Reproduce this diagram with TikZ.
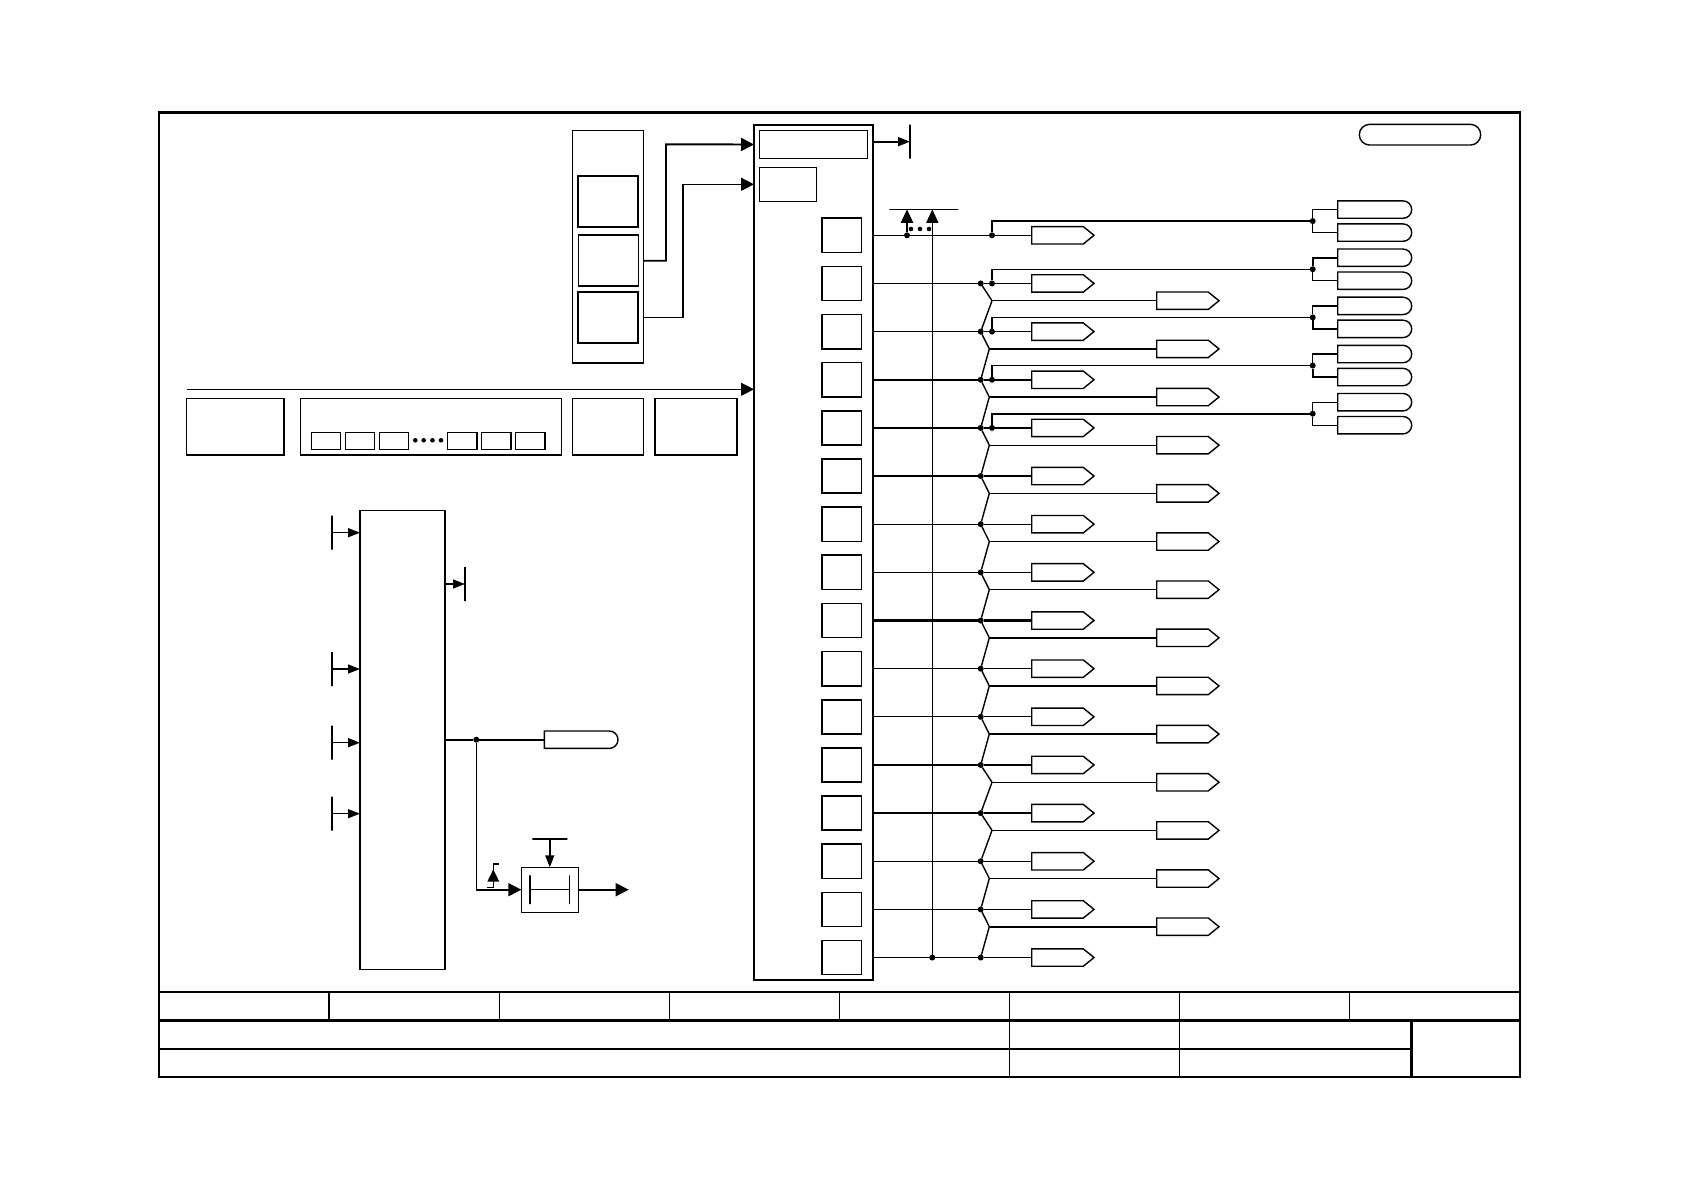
\documentclass[tikz,border=0pt]{standalone}
\usetikzlibrary{shapes.symbols, shapes.misc, arrows.meta, positioning, calc}

\begin{document}
\begin{tikzpicture}[
    x=1pt, y=-1pt,
    every node/.style={inner sep=0pt, outer sep=0pt},
    wire/.style={line width=1.3pt},
    heavy/.style={line width=2.2pt},
    frameline/.style={line width=2.4pt},
    box/.style={rectangle, draw, line width=1.3pt},
    strong/.style={rectangle, draw, line width=1.9pt},
    slot/.style={strong, line width=1.6pt, minimum width=39.6pt, minimum height=34.2pt},
    smallbox/.style={box, minimum width=29.4pt, minimum height=17pt},
    tag/.style={signal, draw, line width=1.4pt, signal pointer angle=78, minimum width=62.3pt, minimum height=17.4pt, anchor=west},
    pill/.style={rounded rectangle, rounded rectangle left arc=none, draw, line width=1.4pt, minimum width=74pt, minimum height=17.4pt, anchor=west},
    dot/.style={circle, fill=black, minimum size=6pt},
    tinydot/.style={circle, fill=black, minimum size=4.6pt},
    bar/.style={draw, line width=1.4pt, minimum width=0pt, minimum height=34pt},
    hbar/.style={draw, line width=1.4pt, minimum height=0pt},
    arrow/.style={-{Triangle[length=13pt, width=13pt]}},
    stub/.style={-{Triangle[length=12pt, width=9pt]}, line width=1.4pt}
]
\useasboundingbox (0,0) rectangle (1684,1190);

% ================= SHEET FRAME =================
\draw[frameline] (159,113) rectangle (1520,1077);
\draw[line width=3pt] (158,113) -- (1521,113);
\draw[frameline] (159,991.7) -- (1520,991.7);
\draw[line width=3pt] (159,1020) -- (1520,1020);
\draw[frameline] (159,1049) -- (1411.5,1049);
\foreach \cx in {329.1, 499.2, 669.3, 839.4, 1009.5, 1179.6, 1349.7} {
    \draw[wire] (\cx,991.7) -- (\cx,1020);
}
\draw[wire] (1009.5,1020) -- (1009.5,1077);
\draw[wire] (1179.6,1020) -- (1179.6,1077);
\draw[frameline] (1411.5,1020) -- (1411.5,1077);

\node[rounded rectangle, draw, line width=1.4pt, minimum width=121.4pt, minimum height=20.7pt] (sheetpill) at (1420,134.7) {};

% ================= UPPER LEFT GROUP =================
\node[box, minimum width=71.2pt, minimum height=232.7pt] (group) at (608.2,246.6) {};
\node[strong, minimum width=60.1pt, minimum height=51.3pt] (grpa) at (608.35,201.35) {};
\node[box, line width=1.6pt, minimum width=60.1pt, minimum height=51pt, below=8.3pt of grpa] (grpb) {};
\node[strong, minimum width=60.1pt, minimum height=51.3pt, below=5.4pt of grpb] (grpc) {};

% ================= INPUT ROW =================
\node[strong, line width=1.6pt, minimum width=97.2pt, minimum height=56.7pt] (rowa) at (235.1,426.65) {};
\node[box, minimum width=261pt, minimum height=56.7pt] (rowb) at (431,426.65) {};
\node[box, minimum width=71.2pt, minimum height=56.7pt] (rowc) at (608.2,426.65) {};
\node[strong, line width=1.6pt, minimum width=82.1pt, minimum height=56.7pt] (rowd) at (695.95,426.65) {};
\node[smallbox] (cella) at (326,440.8) {};
\node[smallbox, right=4.6pt of cella] (cellb) {};
\node[smallbox, right=4.6pt of cellb] (cellc) {};
\node[smallbox] (celld) at (462.2,440.8) {};
\node[smallbox, right=4.6pt of celld] (celle) {};
\node[smallbox, right=4.6pt of celle] (cellf) {};
\node[tinydot] (rowdota) at (415.3,440.3) {};
\node[tinydot] (rowdotb) at (423.7,440.3) {};
\node[tinydot] (rowdotc) at (432.5,440.3) {};
\node[tinydot] (rowdotd) at (441,440.3) {};

% ================= MAIN BLOCK =================
\node[strong, minimum width=119pt, minimum height=855pt] (main) at (813.5,552.5) {};
\node[box, minimum width=108.4pt, minimum height=27.6pt] (headera) at (813.5,144.5) {};
\node[box, minimum width=57.4pt, minimum height=34pt] (headerb) at (788,184.3) {};

\coordinate (busin) at (186.5,389.3);
\draw[wire, arrow] (busin) -- (busin -| main.west);
\draw[line width=1.9pt, arrow] (group.east |- grpb) -| (666,144.3) -- (main.west |- headera);
\draw[wire, line width=1.5pt, arrow] (group.east |- grpc) -| (682.8,184.3) -- (main.west |- headerb);

\node[bar] (limita) at (910,141.7) {};
\draw[stub, line width=1.7pt] (main.east |- limita) -- (limita);

% ================= OUTPUT ROWS =================
\node[slot] (slot0) at (841.6,235.3) {};
\foreach \i [remember=\i as \prev (initially 0)] in {1,...,15} {
    \node[slot, below=13.95pt of slot\prev] (slot\i) {};
}
\foreach \i in {0,...,15} {
    \node[tag] (taga\i) at (1031.7,0 |- slot\i) {};
}
\foreach \i in {1,...,15} {
    \node[dot] (tap\i) at (980.7,0 |- slot\i) {};
}
\draw[wire] (main.east |- slot0) -- (taga0);
\foreach \i in {1,2,5,6,7,9,10,11,12,13,14,15} {
    \draw[wire] (main.east |- slot\i) -- (tap\i) -- (taga\i);
}
\foreach \i in {3,4,8} {
    \draw[heavy] (main.east |- slot\i) -- (tap\i) -- (taga\i);
}

% second tag column, hung on the bends between two rows
\foreach \i/\bx/\lw in {1/992/1.3, 2/989.3/1.3, 3/989.3/2.2, 4/989.3/1.3, 5/989.3/1.3, 6/989.3/1.3, 7/989.3/1.3, 8/989.3/2.2, 9/989.3/2.2, 10/989.3/2.2, 11/992/1.3, 12/992/1.3, 13/989.3/1.3, 14/989.3/2.2} {
    \pgfmathtruncatemacro\nxt{\i+1}
    \coordinate (bend\i) at ($(\bx,0 |- slot\i)+(0,17.3)$);
    \node[tag] (tagb\i) at (1156.7,0 |- bend\i) {};
    \draw[line width=1.4pt] (tap\i) -- (bend\i) -- (tap\nxt);
    \draw[line width=\lw pt] (bend\i) -- (tagb\i);
}

% taps for the long lines to the right
\node[dot] (sense) at (907,0 |- slot0) {};
\foreach \i in {0,...,4} {
    \node[dot] (fork\i) at (992,0 |- slot\i) {};
    \node[dot] (hub\i) at ($(1312.7,0 |- slot\i)+(0,-14.2)$) {};
    \node[pill] (pilla\i) at ($(hub\i)+(25,-11.5)$) {};
    \node[pill] (pillb\i) at ($(hub\i)+(25,11.5)$) {};
    \draw[wire] (hub\i) |- (pilla\i);
    \draw[wire] (hub\i) |- (pillb\i);
}
\draw[heavy] (fork0) |- (hub0);
\draw[wire] (fork1) |- (hub1);
\draw[wire] (fork2) |- (hub2);
\draw[wire] (fork3) |- (hub3);
\draw[heavy] (fork4) |- (hub4);
\draw[heavy] (hub1) |- (pilla1);
\draw[heavy] (hub2) |- (pillb2);
\draw[heavy] (hub3) |- (pillb3);

% ================= TAP TO LIMIT LINE =================
\node[hbar, minimum width=69pt] (limitb) at (923.8,209.3) {};
\node[dot] (retn) at (932.3,0 |- slot15) {};
\draw[wire] (retn) -- (retn |- limitb);
\draw[heavy, -{Triangle[length=13.5pt, width=12pt]}] (sense) -- (sense |- limitb);
\draw[wire, -{Triangle[length=13.5pt, width=12pt]}] (932.3,235) -- (932.3,209.3);
\node[tinydot] (limitdota) at (911,229) {};
\node[tinydot] (limitdotb) at (920,229) {};
\node[tinydot] (limitdotc) at (929,229) {};

% ================= LOWER BLOCK =================
\node[strong, line width=1.6pt, minimum width=85pt, minimum height=459pt] (lower) at (402.5,739.8) {};
\node[bar] (ina) at (332,532.7) {};
\node[bar] (inb) at (332,669) {};
\node[bar] (inc) at (332,742.7) {};
\node[bar] (ind) at (332,813.7) {};
\draw[stub] (ina) -- (lower.west |- ina);
\draw[stub] (inb) -- (lower.west |- inb);
\draw[stub] (inc) -- (lower.west |- inc);
\draw[stub] (ind) -- (lower.west |- ind);
\node[bar] (limitc) at (465,584) {};
\draw[stub] (lower.east |- limitc) -- (limitc);

\node[dot] (lowertap) at (476.3,739.7) {};
\node[pill, minimum width=73.7pt] (lowerpill) at (544.3,739.7) {};
\draw[heavy] (lower.east |- lowertap) -- (lowertap) -- (lowerpill);

\node[box, line width=1.4pt, minimum width=57pt, minimum height=45.4pt] (latch) at (549.8,890) {};
\node[bar, minimum height=28.6pt] (latcha) at (530,889.7) {};
\node[bar, minimum height=28.6pt] (latchb) at (569.7,889.7) {};
\draw[wire] (latcha) -- (latchb);
\draw[wire] (lowertap) |- (latcha -| latch.west);
\draw[line width=1.7pt, arrow] (476.3,889.7) -- (latch.west |- latcha);
\node[hbar, minimum width=35pt] (latchset) at (549.8,839) {};
\draw[stub] (latchset) -- (latch);
\coordinate (latchout) at (628.7,889.7);
\draw[line width=1.7pt, arrow] (latch.east |- latchout) -- (latchout);
\draw[wire] (487.3,887.3) -- (493.3,887.3) -- (493.3,864) -- (499.3,864);
\fill (487.3,881.7) -- (499.3,881.7) -- (493.3,869.3) -- cycle;

\end{tikzpicture}
\end{document}
